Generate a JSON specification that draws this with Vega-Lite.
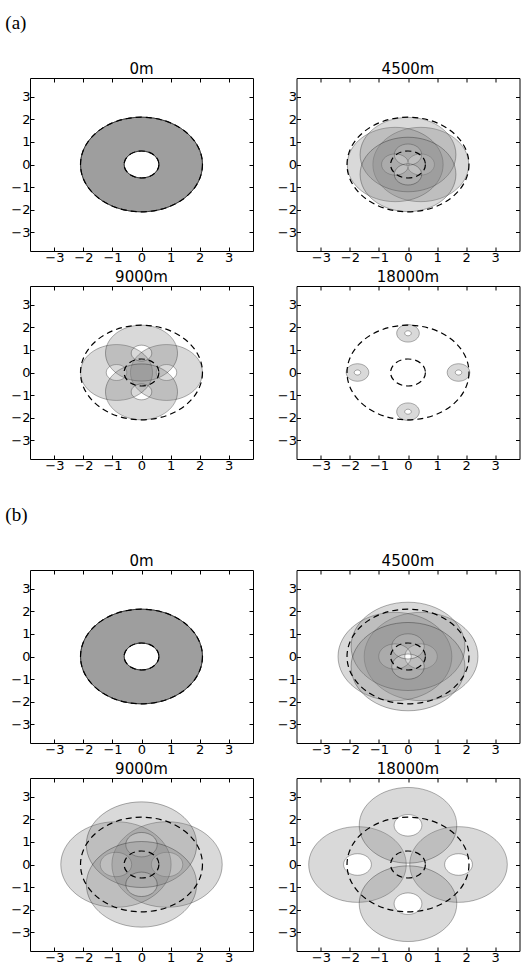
{
"$schema": "https://vega.github.io/schema/vega-lite/v6.json",
"background": "white",
"padding": {"left": 5, "top": 14, "right": 0, "bottom": 0},
"datasets": {
 "rings": [
  {"grp":"a","panel":"0m","x":0,"y":0,"r":2.1},
  {"grp":"a","panel":"0m","x":0,"y":0,"r":2.1},
  {"grp":"a","panel":"0m","x":0,"y":0,"r":2.1},
  {"grp":"a","panel":"0m","x":0,"y":0,"r":2.1},
  {"grp":"a","panel":"4500m","x":0.44,"y":0,"r":1.65},
  {"grp":"a","panel":"4500m","x":-0.44,"y":0,"r":1.65},
  {"grp":"a","panel":"4500m","x":0,"y":0.44,"r":1.65},
  {"grp":"a","panel":"4500m","x":0,"y":-0.44,"r":1.65},
  {"grp":"a","panel":"9000m","x":0.86,"y":0,"r":1.24},
  {"grp":"a","panel":"9000m","x":-0.86,"y":0,"r":1.24},
  {"grp":"a","panel":"9000m","x":0,"y":0.86,"r":1.24},
  {"grp":"a","panel":"9000m","x":0,"y":-0.86,"r":1.24},
  {"grp":"a","panel":"18000m","x":1.74,"y":0,"r":0.39},
  {"grp":"a","panel":"18000m","x":-1.74,"y":0,"r":0.39},
  {"grp":"a","panel":"18000m","x":0,"y":1.74,"r":0.39},
  {"grp":"a","panel":"18000m","x":0,"y":-1.74,"r":0.39},
  {"grp":"b","panel":"0m","x":0,"y":0,"r":2.1},
  {"grp":"b","panel":"0m","x":0,"y":0,"r":2.1},
  {"grp":"b","panel":"0m","x":0,"y":0,"r":2.1},
  {"grp":"b","panel":"0m","x":0,"y":0,"r":2.1},
  {"grp":"b","panel":"4500m","x":0.45,"y":0,"r":1.96},
  {"grp":"b","panel":"4500m","x":-0.45,"y":0,"r":1.96},
  {"grp":"b","panel":"4500m","x":0,"y":0.45,"r":1.96},
  {"grp":"b","panel":"4500m","x":0,"y":-0.45,"r":1.96},
  {"grp":"b","panel":"9000m","x":0.88,"y":0,"r":1.9},
  {"grp":"b","panel":"9000m","x":-0.88,"y":0,"r":1.9},
  {"grp":"b","panel":"9000m","x":0,"y":0.88,"r":1.9},
  {"grp":"b","panel":"9000m","x":0,"y":-0.88,"r":1.9},
  {"grp":"b","panel":"18000m","x":1.74,"y":0,"r":1.68},
  {"grp":"b","panel":"18000m","x":-1.74,"y":0,"r":1.68},
  {"grp":"b","panel":"18000m","x":0,"y":1.74,"r":1.68},
  {"grp":"b","panel":"18000m","x":0,"y":-1.74,"r":1.68}
 ],
 "refs": [
  {"x":0,"y":0,"r":2.1},
  {"x":0,"y":0,"r":0.6}
 ]
},
"spacing": 33,
"vconcat": [
 {
  "title": {"text":"(a)","anchor":"start","font":"Liberation Serif","fontSize":19,"offset":28,"dx":-5},
  "columns": 2,
  "spacing": {"row": 4, "column": 22.5},
  "concat": [
   {"title":"0m","width":223,"height":173,"resolve":{"axis":{"x":"independent","y":"independent"}},
    "layer":[
     {"data":{"name":"rings"},"transform":[{"filter":"datum.grp==='a' && datum.panel==='0m'"}],
      "mark":{"type":"point","shape":"M1,0C1,0.4285,0.5523,0.7759,0,0.7759C-0.5523,0.7759,-1,0.4285,-1,0C-1,-0.4285,-0.5523,-0.7759,0,-0.7759C0.5523,-0.7759,1,-0.4285,1,0ZM0.285,0C0.285,-0.1221,0.1574,-0.2211,0,-0.2211C-0.1574,-0.2211,-0.285,-0.1221,-0.285,0C-0.285,0.1221,-0.1574,0.2211,0,0.2211C0.1574,0.2211,0.285,0.1221,0.285,0Z","filled":true,"fill":"#808080","fillOpacity":0.3,"stroke":"#000000","strokeOpacity":0.3,"strokeWidth":1,"opacity":1},
      "encoding":{
       "x":{"field":"x","type":"quantitative","scale":{"domain":[-3.84,3.84],"nice":false,"zero":false},"axis":{"orient":"bottom","values":[-3,-2,-1,0,1,2,3],"title":null}},
       "y":{"field":"y","type":"quantitative","scale":{"domain":[-3.84,3.84],"nice":false,"zero":false},"axis":{"orient":"left","values":[-3,-2,-1,0,1,2,3],"title":null}},
       "size":{"field":"r","type":"quantitative","scale":{"type":"pow","exponent":2,"domain":[0,3],"range":[0,30352]},"legend":null}}},
     {"data":{"name":"refs"},
      "mark":{"type":"point","shape":"M1,0C1,0.4285,0.5523,0.7759,0,0.7759C-0.5523,0.7759,-1,0.4285,-1,0C-1,-0.4285,-0.5523,-0.7759,0,-0.7759C0.5523,-0.7759,1,-0.4285,1,0Z","filled":false,"stroke":"#000000","strokeWidth":1.2,"strokeDash":[6,4],"opacity":1},
      "encoding":{
       "x":{"field":"x","type":"quantitative","axis":{"orient":"top","values":[-3,-2,-1,0,1,2,3],"labels":false,"title":null}},
       "y":{"field":"y","type":"quantitative","axis":{"orient":"right","values":[-3,-2,-1,0,1,2,3],"labels":false,"title":null}},
       "size":{"field":"r","type":"quantitative","legend":null}}}
    ]},
   {"title":"4500m","width":223,"height":173,"resolve":{"axis":{"x":"independent","y":"independent"}},
    "layer":[
     {"data":{"name":"rings"},"transform":[{"filter":"datum.grp==='a' && datum.panel==='4500m'"}],
      "mark":{"type":"point","shape":"M1,0C1,0.4285,0.5523,0.7759,0,0.7759C-0.5523,0.7759,-1,0.4285,-1,0C-1,-0.4285,-0.5523,-0.7759,0,-0.7759C0.5523,-0.7759,1,-0.4285,1,0ZM0.285,0C0.285,-0.1221,0.1574,-0.2211,0,-0.2211C-0.1574,-0.2211,-0.285,-0.1221,-0.285,0C-0.285,0.1221,-0.1574,0.2211,0,0.2211C0.1574,0.2211,0.285,0.1221,0.285,0Z","filled":true,"fill":"#808080","fillOpacity":0.3,"stroke":"#000000","strokeOpacity":0.3,"strokeWidth":1,"opacity":1},
      "encoding":{
       "x":{"field":"x","type":"quantitative","scale":{"domain":[-3.84,3.84],"nice":false,"zero":false},"axis":{"orient":"bottom","values":[-3,-2,-1,0,1,2,3],"title":null}},
       "y":{"field":"y","type":"quantitative","scale":{"domain":[-3.84,3.84],"nice":false,"zero":false},"axis":{"orient":"left","values":[-3,-2,-1,0,1,2,3],"title":null}},
       "size":{"field":"r","type":"quantitative","scale":{"type":"pow","exponent":2,"domain":[0,3],"range":[0,30352]},"legend":null}}},
     {"data":{"name":"refs"},
      "mark":{"type":"point","shape":"M1,0C1,0.4285,0.5523,0.7759,0,0.7759C-0.5523,0.7759,-1,0.4285,-1,0C-1,-0.4285,-0.5523,-0.7759,0,-0.7759C0.5523,-0.7759,1,-0.4285,1,0Z","filled":false,"stroke":"#000000","strokeWidth":1.2,"strokeDash":[6,4],"opacity":1},
      "encoding":{
       "x":{"field":"x","type":"quantitative","axis":{"orient":"top","values":[-3,-2,-1,0,1,2,3],"labels":false,"title":null}},
       "y":{"field":"y","type":"quantitative","axis":{"orient":"right","values":[-3,-2,-1,0,1,2,3],"labels":false,"title":null}},
       "size":{"field":"r","type":"quantitative","legend":null}}}
    ]},
   {"title":"9000m","width":223,"height":173,"resolve":{"axis":{"x":"independent","y":"independent"}},
    "layer":[
     {"data":{"name":"rings"},"transform":[{"filter":"datum.grp==='a' && datum.panel==='9000m'"}],
      "mark":{"type":"point","shape":"M1,0C1,0.4285,0.5523,0.7759,0,0.7759C-0.5523,0.7759,-1,0.4285,-1,0C-1,-0.4285,-0.5523,-0.7759,0,-0.7759C0.5523,-0.7759,1,-0.4285,1,0ZM0.285,0C0.285,-0.1221,0.1574,-0.2211,0,-0.2211C-0.1574,-0.2211,-0.285,-0.1221,-0.285,0C-0.285,0.1221,-0.1574,0.2211,0,0.2211C0.1574,0.2211,0.285,0.1221,0.285,0Z","filled":true,"fill":"#808080","fillOpacity":0.3,"stroke":"#000000","strokeOpacity":0.3,"strokeWidth":1,"opacity":1},
      "encoding":{
       "x":{"field":"x","type":"quantitative","scale":{"domain":[-3.84,3.84],"nice":false,"zero":false},"axis":{"orient":"bottom","values":[-3,-2,-1,0,1,2,3],"title":null}},
       "y":{"field":"y","type":"quantitative","scale":{"domain":[-3.84,3.84],"nice":false,"zero":false},"axis":{"orient":"left","values":[-3,-2,-1,0,1,2,3],"title":null}},
       "size":{"field":"r","type":"quantitative","scale":{"type":"pow","exponent":2,"domain":[0,3],"range":[0,30352]},"legend":null}}},
     {"data":{"name":"refs"},
      "mark":{"type":"point","shape":"M1,0C1,0.4285,0.5523,0.7759,0,0.7759C-0.5523,0.7759,-1,0.4285,-1,0C-1,-0.4285,-0.5523,-0.7759,0,-0.7759C0.5523,-0.7759,1,-0.4285,1,0Z","filled":false,"stroke":"#000000","strokeWidth":1.2,"strokeDash":[6,4],"opacity":1},
      "encoding":{
       "x":{"field":"x","type":"quantitative","axis":{"orient":"top","values":[-3,-2,-1,0,1,2,3],"labels":false,"title":null}},
       "y":{"field":"y","type":"quantitative","axis":{"orient":"right","values":[-3,-2,-1,0,1,2,3],"labels":false,"title":null}},
       "size":{"field":"r","type":"quantitative","legend":null}}}
    ]},
   {"title":"18000m","width":223,"height":173,"resolve":{"axis":{"x":"independent","y":"independent"}},
    "layer":[
     {"data":{"name":"rings"},"transform":[{"filter":"datum.grp==='a' && datum.panel==='18000m'"}],
      "mark":{"type":"point","shape":"M1,0C1,0.4285,0.5523,0.7759,0,0.7759C-0.5523,0.7759,-1,0.4285,-1,0C-1,-0.4285,-0.5523,-0.7759,0,-0.7759C0.5523,-0.7759,1,-0.4285,1,0ZM0.285,0C0.285,-0.1221,0.1574,-0.2211,0,-0.2211C-0.1574,-0.2211,-0.285,-0.1221,-0.285,0C-0.285,0.1221,-0.1574,0.2211,0,0.2211C0.1574,0.2211,0.285,0.1221,0.285,0Z","filled":true,"fill":"#808080","fillOpacity":0.3,"stroke":"#000000","strokeOpacity":0.3,"strokeWidth":1,"opacity":1},
      "encoding":{
       "x":{"field":"x","type":"quantitative","scale":{"domain":[-3.84,3.84],"nice":false,"zero":false},"axis":{"orient":"bottom","values":[-3,-2,-1,0,1,2,3],"title":null}},
       "y":{"field":"y","type":"quantitative","scale":{"domain":[-3.84,3.84],"nice":false,"zero":false},"axis":{"orient":"left","values":[-3,-2,-1,0,1,2,3],"title":null}},
       "size":{"field":"r","type":"quantitative","scale":{"type":"pow","exponent":2,"domain":[0,3],"range":[0,30352]},"legend":null}}},
     {"data":{"name":"refs"},
      "mark":{"type":"point","shape":"M1,0C1,0.4285,0.5523,0.7759,0,0.7759C-0.5523,0.7759,-1,0.4285,-1,0C-1,-0.4285,-0.5523,-0.7759,0,-0.7759C0.5523,-0.7759,1,-0.4285,1,0Z","filled":false,"stroke":"#000000","strokeWidth":1.2,"strokeDash":[6,4],"opacity":1},
      "encoding":{
       "x":{"field":"x","type":"quantitative","axis":{"orient":"top","values":[-3,-2,-1,0,1,2,3],"labels":false,"title":null}},
       "y":{"field":"y","type":"quantitative","axis":{"orient":"right","values":[-3,-2,-1,0,1,2,3],"labels":false,"title":null}},
       "size":{"field":"r","type":"quantitative","legend":null}}}
    ]}
  ]
 },
 {
  "title": {"text":"(b)","anchor":"start","font":"Liberation Serif","fontSize":19,"offset":28,"dx":-5},
  "columns": 2,
  "spacing": {"row": 4, "column": 22.5},
  "concat": [
   {"title":"0m","width":223,"height":173,"resolve":{"axis":{"x":"independent","y":"independent"}},
    "layer":[
     {"data":{"name":"rings"},"transform":[{"filter":"datum.grp==='b' && datum.panel==='0m'"}],
      "mark":{"type":"point","shape":"M1,0C1,0.4285,0.5523,0.7759,0,0.7759C-0.5523,0.7759,-1,0.4285,-1,0C-1,-0.4285,-0.5523,-0.7759,0,-0.7759C0.5523,-0.7759,1,-0.4285,1,0ZM0.285,0C0.285,-0.1221,0.1574,-0.2211,0,-0.2211C-0.1574,-0.2211,-0.285,-0.1221,-0.285,0C-0.285,0.1221,-0.1574,0.2211,0,0.2211C0.1574,0.2211,0.285,0.1221,0.285,0Z","filled":true,"fill":"#808080","fillOpacity":0.3,"stroke":"#000000","strokeOpacity":0.3,"strokeWidth":1,"opacity":1},
      "encoding":{
       "x":{"field":"x","type":"quantitative","scale":{"domain":[-3.84,3.84],"nice":false,"zero":false},"axis":{"orient":"bottom","values":[-3,-2,-1,0,1,2,3],"title":null}},
       "y":{"field":"y","type":"quantitative","scale":{"domain":[-3.84,3.84],"nice":false,"zero":false},"axis":{"orient":"left","values":[-3,-2,-1,0,1,2,3],"title":null}},
       "size":{"field":"r","type":"quantitative","scale":{"type":"pow","exponent":2,"domain":[0,3],"range":[0,30352]},"legend":null}}},
     {"data":{"name":"refs"},
      "mark":{"type":"point","shape":"M1,0C1,0.4285,0.5523,0.7759,0,0.7759C-0.5523,0.7759,-1,0.4285,-1,0C-1,-0.4285,-0.5523,-0.7759,0,-0.7759C0.5523,-0.7759,1,-0.4285,1,0Z","filled":false,"stroke":"#000000","strokeWidth":1.2,"strokeDash":[6,4],"opacity":1},
      "encoding":{
       "x":{"field":"x","type":"quantitative","axis":{"orient":"top","values":[-3,-2,-1,0,1,2,3],"labels":false,"title":null}},
       "y":{"field":"y","type":"quantitative","axis":{"orient":"right","values":[-3,-2,-1,0,1,2,3],"labels":false,"title":null}},
       "size":{"field":"r","type":"quantitative","legend":null}}}
    ]},
   {"title":"4500m","width":223,"height":173,"resolve":{"axis":{"x":"independent","y":"independent"}},
    "layer":[
     {"data":{"name":"rings"},"transform":[{"filter":"datum.grp==='b' && datum.panel==='4500m'"}],
      "mark":{"type":"point","shape":"M1,0C1,0.4285,0.5523,0.7759,0,0.7759C-0.5523,0.7759,-1,0.4285,-1,0C-1,-0.4285,-0.5523,-0.7759,0,-0.7759C0.5523,-0.7759,1,-0.4285,1,0ZM0.285,0C0.285,-0.1221,0.1574,-0.2211,0,-0.2211C-0.1574,-0.2211,-0.285,-0.1221,-0.285,0C-0.285,0.1221,-0.1574,0.2211,0,0.2211C0.1574,0.2211,0.285,0.1221,0.285,0Z","filled":true,"fill":"#808080","fillOpacity":0.3,"stroke":"#000000","strokeOpacity":0.3,"strokeWidth":1,"opacity":1},
      "encoding":{
       "x":{"field":"x","type":"quantitative","scale":{"domain":[-3.84,3.84],"nice":false,"zero":false},"axis":{"orient":"bottom","values":[-3,-2,-1,0,1,2,3],"title":null}},
       "y":{"field":"y","type":"quantitative","scale":{"domain":[-3.84,3.84],"nice":false,"zero":false},"axis":{"orient":"left","values":[-3,-2,-1,0,1,2,3],"title":null}},
       "size":{"field":"r","type":"quantitative","scale":{"type":"pow","exponent":2,"domain":[0,3],"range":[0,30352]},"legend":null}}},
     {"data":{"name":"refs"},
      "mark":{"type":"point","shape":"M1,0C1,0.4285,0.5523,0.7759,0,0.7759C-0.5523,0.7759,-1,0.4285,-1,0C-1,-0.4285,-0.5523,-0.7759,0,-0.7759C0.5523,-0.7759,1,-0.4285,1,0Z","filled":false,"stroke":"#000000","strokeWidth":1.2,"strokeDash":[6,4],"opacity":1},
      "encoding":{
       "x":{"field":"x","type":"quantitative","axis":{"orient":"top","values":[-3,-2,-1,0,1,2,3],"labels":false,"title":null}},
       "y":{"field":"y","type":"quantitative","axis":{"orient":"right","values":[-3,-2,-1,0,1,2,3],"labels":false,"title":null}},
       "size":{"field":"r","type":"quantitative","legend":null}}}
    ]},
   {"title":"9000m","width":223,"height":173,"resolve":{"axis":{"x":"independent","y":"independent"}},
    "layer":[
     {"data":{"name":"rings"},"transform":[{"filter":"datum.grp==='b' && datum.panel==='9000m'"}],
      "mark":{"type":"point","shape":"M1,0C1,0.4285,0.5523,0.7759,0,0.7759C-0.5523,0.7759,-1,0.4285,-1,0C-1,-0.4285,-0.5523,-0.7759,0,-0.7759C0.5523,-0.7759,1,-0.4285,1,0ZM0.285,0C0.285,-0.1221,0.1574,-0.2211,0,-0.2211C-0.1574,-0.2211,-0.285,-0.1221,-0.285,0C-0.285,0.1221,-0.1574,0.2211,0,0.2211C0.1574,0.2211,0.285,0.1221,0.285,0Z","filled":true,"fill":"#808080","fillOpacity":0.3,"stroke":"#000000","strokeOpacity":0.3,"strokeWidth":1,"opacity":1},
      "encoding":{
       "x":{"field":"x","type":"quantitative","scale":{"domain":[-3.84,3.84],"nice":false,"zero":false},"axis":{"orient":"bottom","values":[-3,-2,-1,0,1,2,3],"title":null}},
       "y":{"field":"y","type":"quantitative","scale":{"domain":[-3.84,3.84],"nice":false,"zero":false},"axis":{"orient":"left","values":[-3,-2,-1,0,1,2,3],"title":null}},
       "size":{"field":"r","type":"quantitative","scale":{"type":"pow","exponent":2,"domain":[0,3],"range":[0,30352]},"legend":null}}},
     {"data":{"name":"refs"},
      "mark":{"type":"point","shape":"M1,0C1,0.4285,0.5523,0.7759,0,0.7759C-0.5523,0.7759,-1,0.4285,-1,0C-1,-0.4285,-0.5523,-0.7759,0,-0.7759C0.5523,-0.7759,1,-0.4285,1,0Z","filled":false,"stroke":"#000000","strokeWidth":1.2,"strokeDash":[6,4],"opacity":1},
      "encoding":{
       "x":{"field":"x","type":"quantitative","axis":{"orient":"top","values":[-3,-2,-1,0,1,2,3],"labels":false,"title":null}},
       "y":{"field":"y","type":"quantitative","axis":{"orient":"right","values":[-3,-2,-1,0,1,2,3],"labels":false,"title":null}},
       "size":{"field":"r","type":"quantitative","legend":null}}}
    ]},
   {"title":"18000m","width":223,"height":173,"resolve":{"axis":{"x":"independent","y":"independent"}},
    "layer":[
     {"data":{"name":"rings"},"transform":[{"filter":"datum.grp==='b' && datum.panel==='18000m'"}],
      "mark":{"type":"point","shape":"M1,0C1,0.4285,0.5523,0.7759,0,0.7759C-0.5523,0.7759,-1,0.4285,-1,0C-1,-0.4285,-0.5523,-0.7759,0,-0.7759C0.5523,-0.7759,1,-0.4285,1,0ZM0.285,0C0.285,-0.1221,0.1574,-0.2211,0,-0.2211C-0.1574,-0.2211,-0.285,-0.1221,-0.285,0C-0.285,0.1221,-0.1574,0.2211,0,0.2211C0.1574,0.2211,0.285,0.1221,0.285,0Z","filled":true,"fill":"#808080","fillOpacity":0.3,"stroke":"#000000","strokeOpacity":0.3,"strokeWidth":1,"opacity":1},
      "encoding":{
       "x":{"field":"x","type":"quantitative","scale":{"domain":[-3.84,3.84],"nice":false,"zero":false},"axis":{"orient":"bottom","values":[-3,-2,-1,0,1,2,3],"title":null}},
       "y":{"field":"y","type":"quantitative","scale":{"domain":[-3.84,3.84],"nice":false,"zero":false},"axis":{"orient":"left","values":[-3,-2,-1,0,1,2,3],"title":null}},
       "size":{"field":"r","type":"quantitative","scale":{"type":"pow","exponent":2,"domain":[0,3],"range":[0,30352]},"legend":null}}},
     {"data":{"name":"refs"},
      "mark":{"type":"point","shape":"M1,0C1,0.4285,0.5523,0.7759,0,0.7759C-0.5523,0.7759,-1,0.4285,-1,0C-1,-0.4285,-0.5523,-0.7759,0,-0.7759C0.5523,-0.7759,1,-0.4285,1,0Z","filled":false,"stroke":"#000000","strokeWidth":1.2,"strokeDash":[6,4],"opacity":1},
      "encoding":{
       "x":{"field":"x","type":"quantitative","axis":{"orient":"top","values":[-3,-2,-1,0,1,2,3],"labels":false,"title":null}},
       "y":{"field":"y","type":"quantitative","axis":{"orient":"right","values":[-3,-2,-1,0,1,2,3],"labels":false,"title":null}},
       "size":{"field":"r","type":"quantitative","legend":null}}}
    ]}
  ]
 }
],
"config": {
 "view": {"stroke":"#000000","strokeWidth":1},
 "axis": {"grid":false,"domain":false,"tickColor":"#000000","tickSize":-4,"tickWidth":1,"labelFont":"DejaVu Sans","labelFontSize":13,"labelColor":"#000000","labelPadding":4},
 "title": {"font":"DejaVu Sans","fontSize":15,"fontWeight":"normal","color":"#000000","offset":1}
}
}
